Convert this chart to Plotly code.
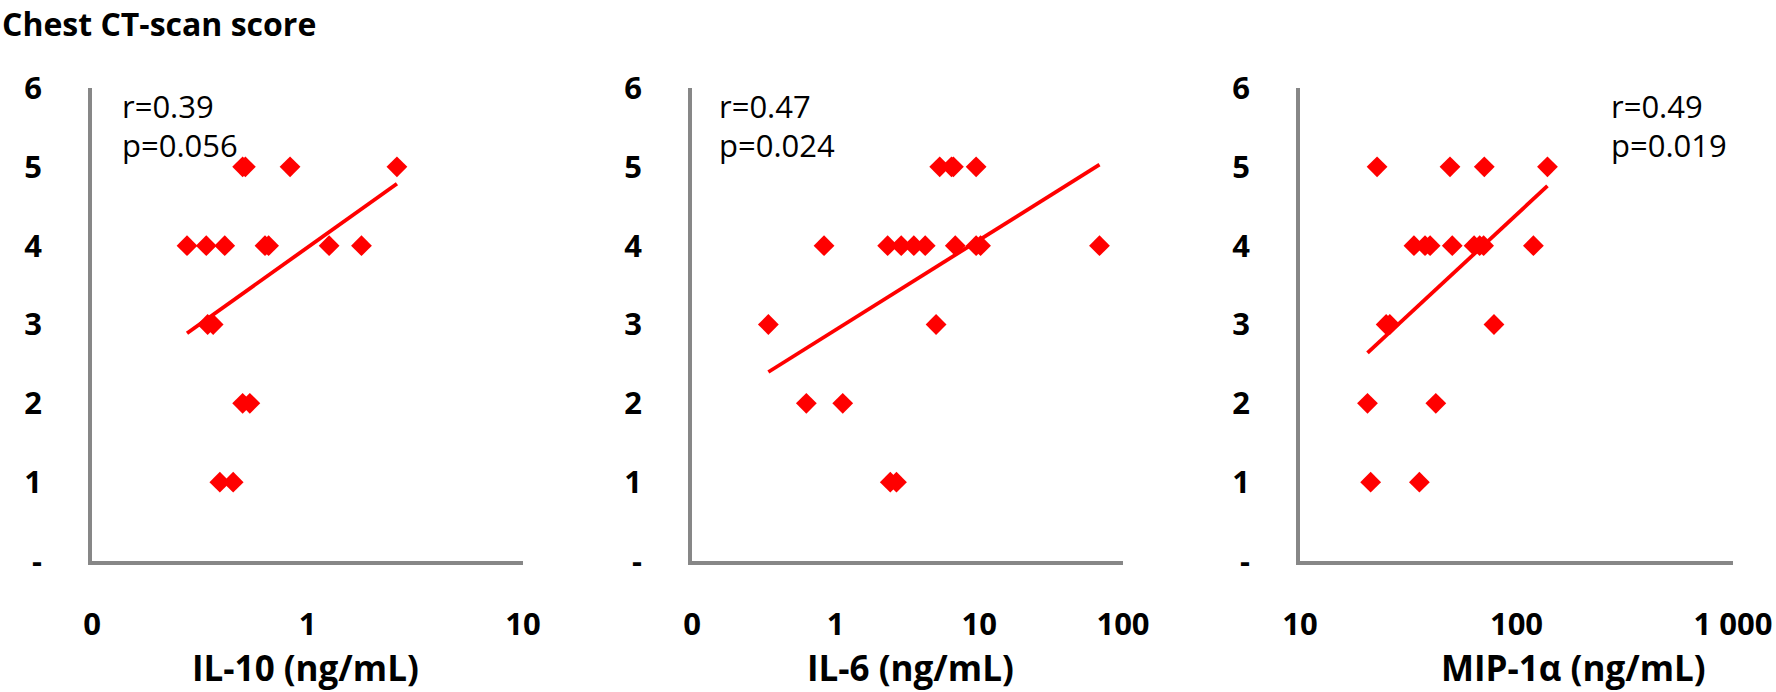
import numpy as np
import plotly.graph_objects as go

# ---- data ----
il10_x = [0.50, 0.515, 0.83, 2.6, 0.276, 0.339, 0.413, 0.635, 0.66, 1.26, 1.78,
          0.344, 0.365, 0.50, 0.54, 0.392, 0.452]
il10_y = [5, 5, 5, 5, 4, 4, 4, 4, 4, 4, 4, 3, 3, 2, 2, 1, 1]

il6_x = [5.3, 6.4, 6.6, 9.5, 0.83, 2.3, 2.86, 3.5, 4.2, 6.8, 9.5, 10.2, 68.6,
         0.34, 5.0, 0.625, 1.12, 2.4, 2.65]
il6_y = [5, 5, 5, 5, 4, 4, 4, 4, 4, 4, 4, 4, 4, 3, 3, 2, 2, 1, 1]

mip_x = [22.7, 49.3, 71, 139, 33.6, 37.8, 39.9, 50.5, 63.7, 67.6, 70.5, 119.7,
         25, 26, 78.7, 20.5, 42.4, 21.2, 35.6]
mip_y = [5, 5, 5, 5, 4, 4, 4, 4, 4, 4, 4, 4, 3, 3, 3, 2, 2, 1, 1]

panel_titles = ["IL-10 (ng/mL)", "IL-6 (ng/mL)", "MIP-1α (ng/mL)"]
r_labels = ["r=0.39", "r=0.47", "r=0.49"]
p_labels = ["p=0.056", "p=0.024", "p=0.019"]
x_tickvals = [[0.1, 1, 10], [0.1, 1, 10, 100], [10, 100, 1000]]
x_ticktext = [["0", "1", "10"], ["0", "1", "10", "100"], ["10", "100", "1 000"]]
y_tickvals = [0, 1, 2, 3, 4, 5, 6]
y_ticktext = ["-", "1", "2", "3", "4", "5", "6"]
main_title = "Chest CT-scan score"

# ---- layout geometry ----
W, H = 1776, 692
FONT = "Open Sans"
RED = "#FF0000"
GREY = "#878787"
x_domains = [[92 / W, 523 / W], [692 / W, 1123 / W], [1300 / W, 1733 / W]]
x_ranges = [[-1, 1], [-1, 2], [1, 3]]
y_domain = [1 - 561 / H, 1 - 88 / H]
text_x = [120, 717, 1609]
title_x = [305, 910, 1573]

datasets = [(il10_x, il10_y), (il6_x, il6_y), (mip_x, mip_y)]

fig = go.Figure()
for i, (xs, ys) in enumerate(datasets):
    n = i + 1
    xa = "x" if n == 1 else f"x{n}"
    ya = "y" if n == 1 else f"y{n}"
    fig.add_trace(go.Scatter(
        x=xs, y=ys, mode="markers", xaxis=xa, yaxis=ya,
        marker=dict(symbol="diamond", size=16, color=RED, line=dict(width=0)),
        showlegend=False, cliponaxis=False))
    # logarithmic trend line fitted to the data
    lx = np.log10(np.array(xs, dtype=float))
    slope, intercept = np.polyfit(lx, np.array(ys, dtype=float), 1)
    xl = np.array([min(xs), max(xs)])
    yl = slope * np.log10(xl) + intercept
    fig.add_trace(go.Scatter(
        x=xl, y=yl, mode="lines", xaxis=xa, yaxis=ya,
        line=dict(color=RED, width=3.8), showlegend=False, hoverinfo="skip"))

    xkey = "xaxis" if n == 1 else f"xaxis{n}"
    ykey = "yaxis" if n == 1 else f"yaxis{n}"
    fig.update_layout(**{
        xkey: dict(
            type="log", range=x_ranges[i], domain=x_domains[i], anchor=ya,
            tickvals=x_tickvals[i], ticktext=x_ticktext[i], automargin=False,
            showline=True, linecolor=GREY, linewidth=3.5, showgrid=False,
            zeroline=False, ticks="", ticklabelstandoff=33,
            tickfont=dict(family=FONT, size=31, color="black", weight="bold")),
        ykey: dict(
            range=[0, 6], domain=y_domain, anchor=xa, automargin=False,
            tickvals=y_tickvals, ticktext=y_ticktext,
            showline=True, linecolor=GREY, linewidth=3.5, showgrid=False,
            zeroline=False, ticks="", ticklabelstandoff=40,
            tickfont=dict(family=FONT, size=31, color="black", weight="bold")),
    })

    fig.add_annotation(x=text_x[i] / W, y=1 - 106 / H, xref="paper", yref="paper",
                       text=r_labels[i], showarrow=False, xanchor="left", yanchor="middle",
                       font=dict(family=FONT, size=31, color="black"))
    fig.add_annotation(x=text_x[i] / W, y=1 - 145 / H, xref="paper", yref="paper",
                       text=p_labels[i], showarrow=False, xanchor="left", yanchor="middle",
                       font=dict(family=FONT, size=31, color="black"))
    fig.add_annotation(x=title_x[i] / W, y=1 - 667 / H, xref="paper", yref="paper",
                       text=panel_titles[i], showarrow=False, xanchor="center", yanchor="middle",
                       font=dict(family=FONT, size=35, color="black", weight="bold"))

fig.add_annotation(x=0, y=1, xref="paper", yref="paper",
                   text=main_title, showarrow=False, xanchor="left", yanchor="top",
                   font=dict(family=FONT, size=32, color="black", weight="bold"))

fig.update_layout(
    width=W, height=H, margin=dict(l=0, r=0, t=0, b=0, autoexpand=False),
    paper_bgcolor="white", plot_bgcolor="white",
    font=dict(family=FONT, color="black"))

fig.write_html(
    "out.html",
    config={"displayModeBar": False},
    post_script="document.body.style.margin='0';document.body.style.overflow='hidden';")
